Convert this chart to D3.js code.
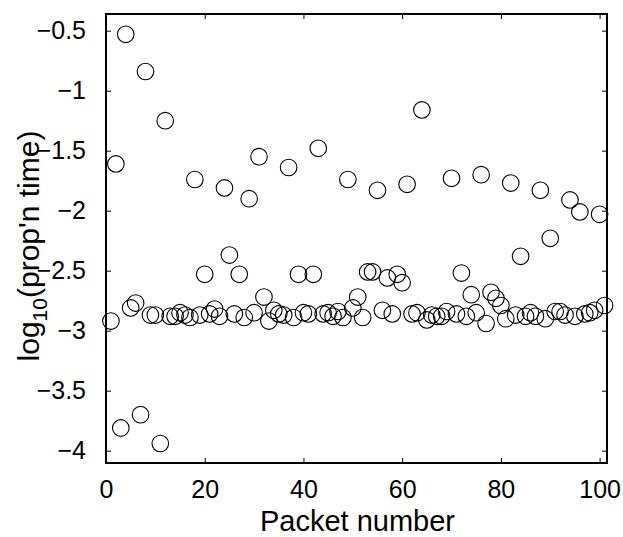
<!DOCTYPE html>
<html><head><meta charset="utf-8">
<script src="https://cdn.jsdelivr.net/npm/d3@7"></script>
<style>body{margin:0;background:#fff}svg text{font-family:"Liberation Sans",Arial,sans-serif}</style>
</head><body>
<svg id="c" width="623" height="537"></svg>
<script>
const packets = d3.range(1, 102);
const logTime = [
-2.92,-1.61,-3.81,-0.53,-2.81,-2.77,-3.70,-0.84,-2.87,-2.87,
-3.94,-1.25,-2.88,-2.88,-2.85,-2.87,-2.89,-1.74,-2.87,-2.53,
-2.86,-2.82,-2.88,-1.81,-2.37,-2.86,-2.53,-2.89,-1.90,-2.85,
-1.55,-2.72,-2.92,-2.83,-2.86,-2.87,-1.64,-2.89,-2.53,-2.85,
-2.86,-2.53,-1.48,-2.86,-2.85,-2.88,-2.84,-2.89,-1.74,-2.81,
-2.72,-2.89,-2.51,-2.51,-1.83,-2.83,-2.56,-2.86,-2.53,-2.60,
-1.78,-2.86,-2.85,-1.16,-2.91,-2.87,-2.88,-2.88,-2.84,-1.73,
-2.86,-2.52,-2.88,-2.70,-2.85,-1.70,-2.94,-2.68,-2.73,-2.79,
-2.90,-1.77,-2.87,-2.38,-2.88,-2.85,-2.88,-1.83,-2.90,-2.23,
-2.84,-2.84,-2.87,-1.91,-2.88,-2.01,-2.86,-2.85,-2.83,-2.03,
-2.79];
const xTicks = [0,20,40,60,80,100];
const yTicks = [-4,-3.5,-3,-2.5,-2,-1.5,-1,-0.5];
const xDomain = [0,101.5];
const yDomain = [-4.1025,-0.361];

const L=106,R=607,T=14,B=463;
const svg=d3.select("#c");
const x=d3.scaleLinear().domain(xDomain).range([L,R]);
const y=d3.scaleLinear().domain(yDomain).range([B,T]);
const fmt=v=>(v<0?"\u2212":"")+Math.abs(v);

function styleAxis(g,showText){
  g.select(".domain").remove();
  g.selectAll(".tick line").attr("stroke","#000").attr("stroke-width",1);
  if(showText) g.selectAll(".tick text").attr("font-size",25).attr("fill","#000");
  else g.selectAll(".tick text").remove();
}
svg.append("g").attr("transform",`translate(0,${B})`)
  .call(d3.axisBottom(x).tickValues(xTicks).tickFormat(fmt).tickSizeInner(-5).tickSizeOuter(0).tickPadding(17))
  .call(g=>styleAxis(g,true));
svg.append("g").attr("transform",`translate(0,${T})`)
  .call(d3.axisTop(x).tickValues(xTicks).tickSizeInner(-5).tickSizeOuter(0))
  .call(g=>styleAxis(g,false));
svg.append("g").attr("transform",`translate(${L},0)`)
  .call(d3.axisLeft(y).tickValues(yTicks).tickFormat(fmt).tickSizeInner(-5).tickSizeOuter(0).tickPadding(20))
  .call(g=>styleAxis(g,true));
svg.append("g").attr("transform",`translate(${R},0)`)
  .call(d3.axisRight(y).tickValues(yTicks).tickSizeInner(-5).tickSizeOuter(0))
  .call(g=>styleAxis(g,false));

svg.append("rect").attr("x",L).attr("y",T).attr("width",R-L).attr("height",B-T)
  .attr("fill","none").attr("stroke","#000").attr("stroke-width",2);

svg.append("g").selectAll("circle").data(packets).join("circle")
  .attr("cx",(d,i)=>x(d)).attr("cy",(d,i)=>y(logTime[i])).attr("r",8.3)
  .attr("fill","none").attr("stroke","#000").attr("stroke-width",1.1);

svg.append("text").attr("x",(L+R)/2+1).attr("y",531).attr("text-anchor","middle")
  .attr("font-size",29).text("Packet number");
const yl=svg.append("text").attr("transform",`translate(39,${246}) rotate(-90)`)
  .attr("text-anchor","middle").attr("font-size",30);
yl.append("tspan").text("log");
yl.append("tspan").attr("font-size",21).attr("dy",8).text("10");
yl.append("tspan").attr("dy",-8).text("(prop'n time)");
</script>
</body></html>
